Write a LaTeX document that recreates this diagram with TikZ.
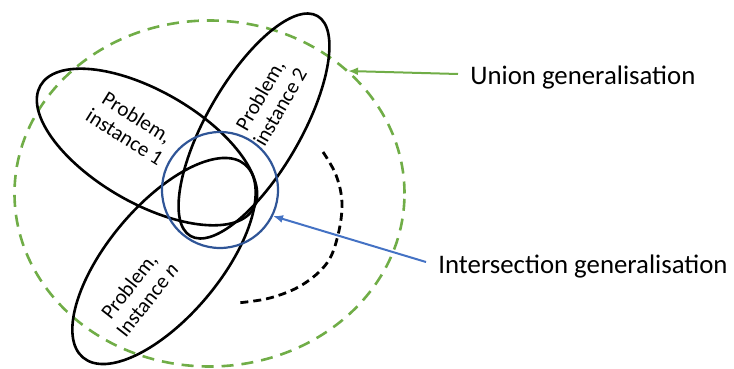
\documentclass[tikz,border=0pt]{standalone}
\usepackage{fontspec}
\setmainfont{Carlito}
\usetikzlibrary{shapes.geometric,arrows.meta}
\definecolor{ugreen}{RGB}{112,173,71}
\definecolor{cblue}{RGB}{47,85,151}
\definecolor{ablue}{RGB}{68,114,196}
\tikzset{
  inst/.style={ellipse, draw=black, line width=1.3pt, inner sep=0pt},
  instlabel/.style={font=\fontsize{10.5}{11.5}\selectfont, align=center, inner sep=0pt},
  biglabel/.style={font=\fontsize{13.4}{16}\selectfont, anchor=west, inner xsep=6pt, inner ysep=0pt},
  arr/.style={line width=1pt, -{Latex[length=5pt,width=4pt]}},
}
\begin{document}
\begin{tikzpicture}[x=0.5pt,y=-0.5pt]
\useasboundingbox (0,0) rectangle (734,369);
% union
\node[ellipse, draw=ugreen, line width=1.3pt, dash pattern=on 6pt off 4pt,
  minimum width=195pt, minimum height=173pt, inner sep=0pt] (union) at (209.5,193.5) {};
% instances
\node[inst, minimum width=123pt, minimum height=56pt, rotate=-30] (e1) at (147,147) {};
\node[inst, minimum width=127pt, minimum height=47pt, rotate=60] (e2) at (254,126) {};
\node[inst, minimum width=126pt, minimum height=56pt, rotate=50] (en) at (164,261) {};
% intersection
\node[circle, draw=cblue, line width=1.1pt, minimum size=58pt, inner sep=0pt] (inter) at (220,190) {};
% labels inside
\node[instlabel, rotate=-32] (t1) at (131,127) {Problem,\\instance 1};
\node[instlabel, rotate=60] (t2) at (270,101) {Problem,\\instance 2};
\node[instlabel, rotate=52] (tn) at (138,293) {Problem,\\Instance \textit{n}};
% dashed arc
\draw[line width=1.4pt, dash pattern=on 4pt off 2.5pt]
  plot[smooth, tension=0.6] coordinates {(323,152) (336,175) (342,203) (338,235) (327,263) (302,285) (270,298) (237,303)};
% outside labels and arrows
\node[biglabel] (ul) at (458,78) {Union generalisation};
\coordinate (utip) at (348,71);
\draw[arr, ugreen] ([yshift=2pt]ul.west) -- (utip);
\node[biglabel] (il) at (426,266) {Intersection generalisation};
\coordinate (itip) at (273,216);
\draw[arr, ablue] ([yshift=2pt]il.west) -- (itip);
\end{tikzpicture}
\end{document}
